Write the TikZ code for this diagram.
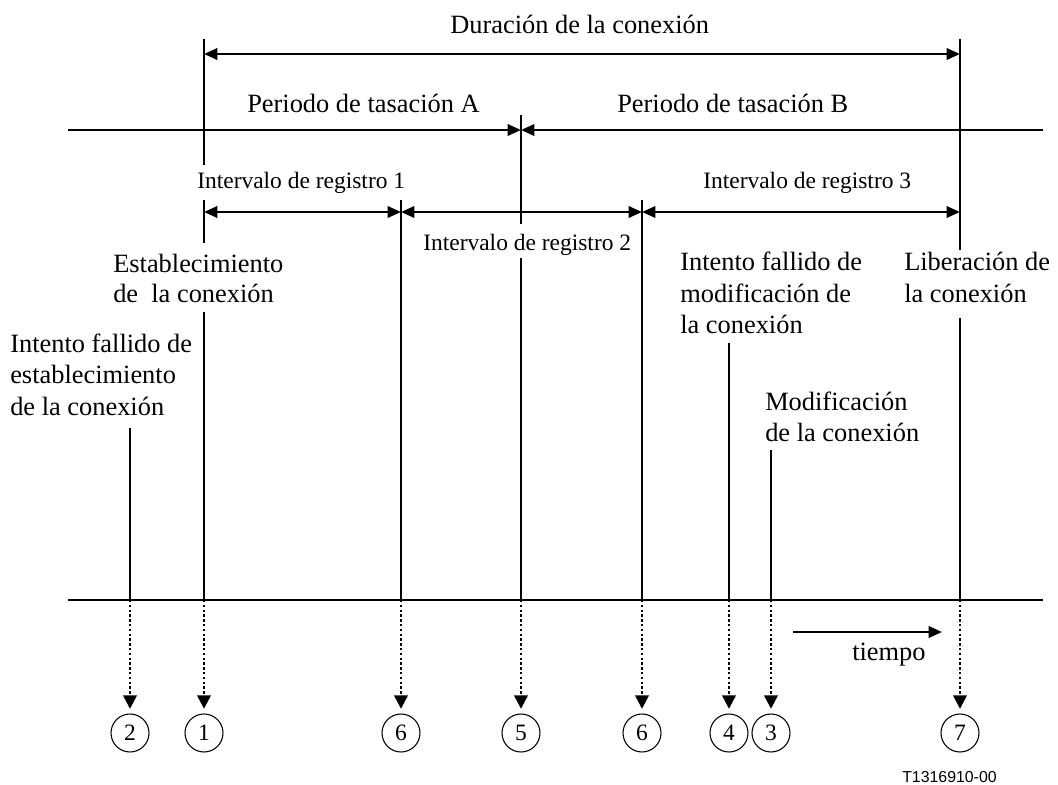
\documentclass[tikz,border=0pt]{standalone}
\usepackage{fontspec}
\setmainfont{Liberation Serif}
\newfontfamily\arialish{Liberation Sans}
\usetikzlibrary{arrows.meta}
\begin{document}
\begin{tikzpicture}[x=0.75pt,y=-0.75pt,
  ln/.style={line width=1.8pt},
  arr/.style={line width=1.8pt,-{Triangle[length=10pt,width=8.5pt]}},
  darr/.style={line width=1.8pt,{Triangle[length=10pt,width=8.5pt]}-{Triangle[length=10pt,width=8.5pt]}},
  dotarr/.style={line width=1.8pt,dash pattern=on 1.8pt off 1.8pt,-{Triangle[length=10pt,width=10pt]}},
  big/.style={font=\fontsize{19.8}{24}\selectfont,inner sep=0pt,anchor=base west},
  small/.style={font=\fontsize{17.6}{21}\selectfont,inner sep=0pt,anchor=base west},
  num/.style={circle,draw,line width=0.8pt,minimum size=28.5pt,inner sep=0pt,font=\fontsize{17.6}{21}\selectfont},
  code/.style={font=\arialish\fontsize{11.9}{14}\selectfont,inner sep=0pt,anchor=base west}
]
\useasboundingbox (0,0) rectangle (1058,785);

% horizontal axes
\coordinate (hL) at (68,130);
\coordinate (hR) at (1043,130);
\coordinate (hM) at (521,130);
\coordinate (bL) at (68,600);
\coordinate (bR) at (1043,600);
\draw[ln] (bL) -- (bR);
\draw[arr] (hL) -- (hM);
\draw[arr] (hR) -- (hM);

% time points on bottom axis
\foreach \n/\x in {p2/130,p1/204,p6a/401,p5/521,p6b/642,p4/729,p3/771,p7/960}
  \coordinate (\n) at (\x,600);

% vertical lines
\draw[ln] (204,39) -- (204,165);
\draw[ln] (204,200) -- (204,243);
\draw[ln] (204,312) -- (p1);
\draw[ln] (960,39) -- (960,250);
\draw[ln] (960,318) -- (p7);
\draw[ln] (521,115) -- (521,224);
\draw[ln] (521,258) -- (p5);
\draw[ln] (401,200) -- (p6a);
\draw[ln] (642,200) -- (p6b);
\draw[ln] (130,428) -- (p2);
\draw[ln] (729,343) -- (p4);
\draw[ln] (771,450) -- (p3);

% dimension arrows
\draw[darr] (204,54) -- (960,54);
\draw[darr] (204,212) -- (401,212);
\draw[darr] (401,212) -- (642,212);
\draw[darr] (642,212) -- (960,212);

% labels
\node[big] (dur) at (450,33) {Duración de la conexión};
\node[big] (pA) at (247,112) {Periodo de tasación A};
\node[big] (pB) at (617,112) {Periodo de tasación B};
\node[small] (i1) at (197,188) {Intervalo de registro 1};
\node[small] (i2) at (423,250) {Intervalo de registro 2};
\node[small] (i3) at (703,188) {Intervalo de registro 3};
\node[big] (est1) at (113,272) {Establecimiento};
\node[big] (est2) at (113,302) {de~ la conexión};
\node[big] (ife1) at (10,352) {Intento fallido de};
\node[big] (ife2) at (10,383) {establecimiento};
\node[big] (ife3) at (10,415) {de la conexión};
\node[big] (ifm1) at (680,270) {Intento fallido de};
\node[big] (ifm2) at (680,302) {modificación de};
\node[big] (ifm3) at (680,333) {la conexión};
\node[big] (lib1) at (904,270) {Liberación de};
\node[big] (lib2) at (904,302) {la conexión};
\node[big] (mod1) at (765,410) {Modificación};
\node[big] (mod2) at (765,441) {de la conexión};

% time arrow
\coordinate (tA) at (793,632);
\coordinate (tB) at (942,632);
\draw[arr] (tA) -- (tB);
\node[big] (tiempo) at (852,660) {tiempo};

% event circles
\node[num] (c2) at (130,733) {2};
\node[num] (c1) at (204,733) {1};
\node[num] (c6a) at (401,733) {6};
\node[num] (c5) at (521,733) {5};
\node[num] (c6b) at (642,733) {6};
\node[num] (c4) at (729,733) {4};
\node[num] (c3) at (771,733) {3};
\node[num] (c7) at (960,733) {7};

\foreach \p/\c in {p2/c2,p1/c1,p6a/c6a,p5/c5,p6b/c6b,p4/c4,p3/c3,p7/c7}
  \draw[dotarr] (\p) -- ([yshift=3.5pt]\c.north);

\node[code] (ref) at (902,782) {T1316910-00};
\end{tikzpicture}
\end{document}
